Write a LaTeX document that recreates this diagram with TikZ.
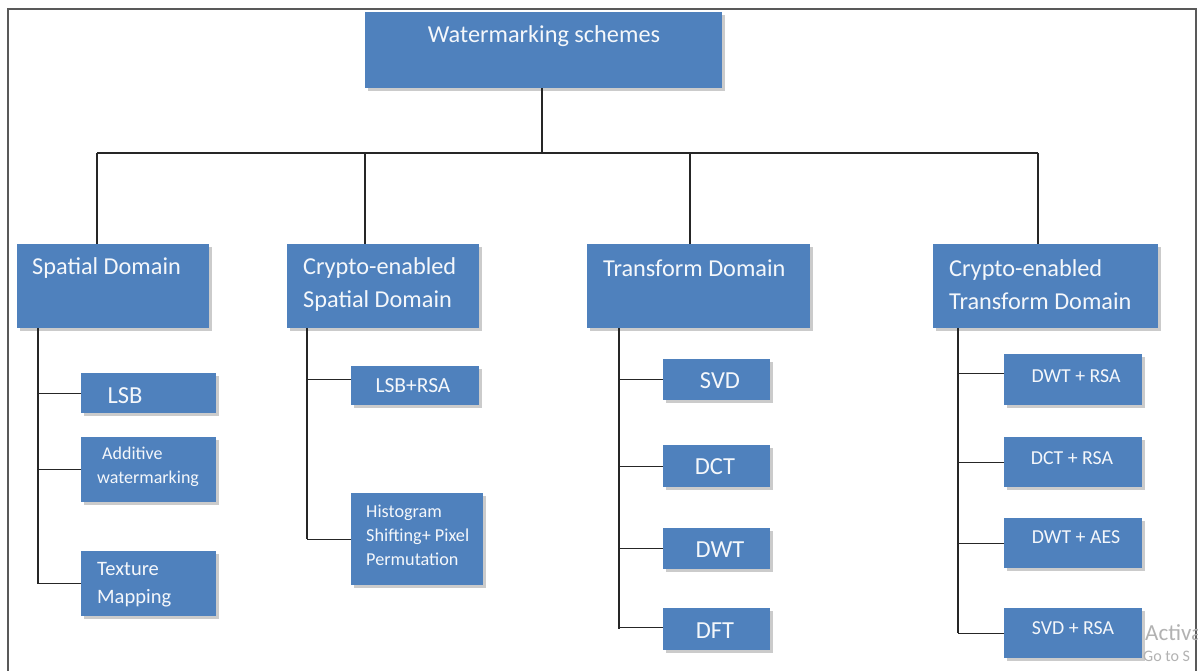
\documentclass[tikz,border=0pt]{standalone}
\usepackage{fontspec}
\setmainfont{Carlito}
\usetikzlibrary{shadows}
\definecolor{boxblue}{HTML}{4F81BD}
\definecolor{txtwhite}{HTML}{F4F7FB}
\tikzset{
  box/.style={fill=boxblue, draw=none, inner sep=0pt,
    drop shadow={shadow xshift=2.5pt, shadow yshift=-2.5pt, fill=black!40, opacity=0.5}},
  lbl/.style={text=txtwhite, inner sep=0pt, align=left},
  big/.style={font=\fontsize{24.3}{33}\selectfont},
  mid/.style={font=\fontsize{24.5}{28}\selectfont},
  sml/.style={font=\fontsize{19.8}{24}\selectfont},
  conn/.style={draw=black!85, line width=1.3pt},
  frame/.style={draw=black!65, line width=1.1pt},
  wm/.style={text=black!30, inner sep=0pt, anchor=west}
}
\newcommand\bx[5]{\node[box, anchor=north west, minimum width={(#4-#2)*1pt}, minimum height={(#5-#3)*1pt}] (#1) at (#2,#3) {};}
\begin{document}
\begin{tikzpicture}[x=1pt,y=-1pt]
\useasboundingbox (0,0) rectangle (1198,671);
\clip (0,0) rectangle (1198,671);
\fill[white] (0,0) rectangle (1198,671);
\draw[frame] (8,700) -- (8,9) -- (1196,9) -- (1196,700);
% boxes
\bx{top}{365}{12}{722}{88}
\bx{sd}{17}{244}{209}{328}
\bx{csd}{287}{244}{479}{328}
\bx{td}{587}{244}{810}{328}
\bx{ctd}{933}{244}{1158}{328}
\bx{lsb}{81}{373}{216}{413}
\bx{add}{81}{437}{216}{502}
\bx{tex}{81}{551}{216}{616}
\bx{lsbrsa}{351}{366}{479}{405}
\bx{hist}{351}{493}{483}{585}
\bx{svd}{663}{359}{770}{400}
\bx{dct}{663}{445}{770}{487}
\bx{dwt}{663}{528}{770}{569}
\bx{dft}{663}{608}{770}{650}
\bx{dwtrsa}{1004}{354}{1142}{405}
\bx{dctrsa}{1004}{437}{1142}{487}
\bx{dwtaes}{1004}{518}{1142}{568}
\bx{svdrsa}{1004}{608}{1142}{658}
% labels
\node[lbl,big] (ttop) at (544,36) {Watermarking schemes};
\node[lbl,big,anchor=west] (tsd) at (32,268) {Spatial Domain};
\node[lbl,big,anchor=west] (tcsd) at (303,284.5) {Crypto-enabled\\Spatial Domain};
\node[lbl,big,anchor=west] (ttd) at (603,268) {Transform Domain};
\node[lbl,big,anchor=west] (tctd) at (949,284.5) {Crypto-enabled\\Transform Domain};
\node[lbl,mid] (tlsb) at (125,396) {LSB};
\node[lbl,font=\fontsize{18}{24}\selectfont,anchor=west] (tadd) at (97,467) {\hspace{5pt}Additive\\watermarking};
\node[lbl,font=\fontsize{20.5}{28}\selectfont,anchor=west] (ttex) at (97,585) {Texture\\Mapping};
\node[lbl,font=\fontsize{21.5}{24}\selectfont] (tlsbrsa) at (413,386) {LSB+RSA};
\node[lbl,font=\fontsize{18.2}{24}\selectfont,anchor=west] (thist) at (366,535.5) {Histogram\\Shifting+ Pixel\\Permutation};
\node[lbl,mid] (tsvd) at (720,381) {SVD};
\node[lbl,mid] (tdct) at (715,467) {DCT};
\node[lbl,mid] (tdwt) at (720,550) {DWT};
\node[lbl,mid] (tdft) at (715,631) {DFT};
\node[lbl,sml] (tdwtrsa) at (1076,376) {DWT + RSA};
\node[lbl,sml] (tdctrsa) at (1072,458) {DCT + RSA};
\node[lbl,sml] (tdwtaes) at (1076,537) {DWT + AES};
\node[lbl,sml] (tsvdrsa) at (1073,628) {SVD + RSA};
% activation watermark
\node[wm,font=\fontsize{23}{23}\selectfont] (wm1) at (1145,633) {Activa};
\node[wm,font=\fontsize{16}{16}\selectfont] (wm2) at (1143,656) {Go to S};
% connectors
\coordinate (busL) at (97,153);
\coordinate (busR) at (1038,153);
\coordinate (b2) at (365,153);
\coordinate (b3) at (690,153);
\draw[conn] (top.south -| 542,0) coordinate (tc) -- (tc |- busL);
\draw[conn] (busL) -- (busR);
\draw[conn] (busL) -- (busL |- sd.north);
\draw[conn] (b2) -- (b2 |- csd.north);
\draw[conn] (b3) -- (b3 |- td.north);
\draw[conn] (busR) -- (busR |- ctd.north);
% stems
\coordinate (s1) at (38,328);
\coordinate (s2) at (307,328);
\coordinate (s3) at (619,328);
\coordinate (s4) at (958,328);
\draw[conn] (s1) -- (s1 |- tex.west);
\draw[conn] (lsb.west) -- (lsb.west -| s1);
\draw[conn] (add.west) -- (add.west -| s1);
\draw[conn] (tex.west) -- (tex.west -| s1);
\draw[conn] (s2) -- (s2 |- hist.west);
\draw[conn] (lsbrsa.west) ++(0,-6) coordinate (lr) -- (lr -| s2);
\draw[conn] (hist.west) -- (hist.west -| s2);
\draw[conn] (s3) -- (s3 |- dft.west);
\draw[conn] (svd.west) -- (svd.west -| s3);
\draw[conn] (dct.west) -- (dct.west -| s3);
\draw[conn] (dwt.west) -- (dwt.west -| s3);
\draw[conn] (dft.west) ++(0,-2) coordinate (df) -- (df -| s3);
\draw[conn] (s4) -- (s4 |- svdrsa.west);
\draw[conn] (dwtrsa.west) ++(0,-6) coordinate (dr) -- (dr -| s4);
\draw[conn] (dctrsa.west) -- (dctrsa.west -| s4);
\draw[conn] (dwtaes.west) -- (dwtaes.west -| s4);
\draw[conn] (svdrsa.west) -- (svdrsa.west -| s4);
\end{tikzpicture}
\end{document}
